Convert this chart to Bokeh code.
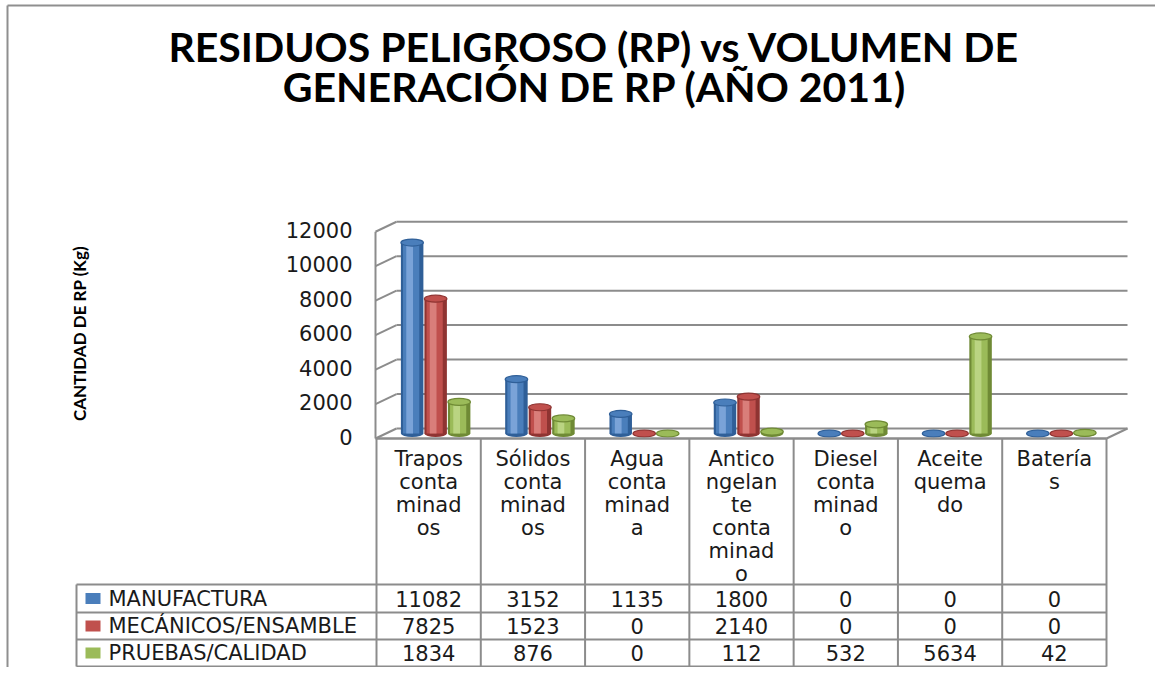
import math
from bokeh.plotting import figure
from bokeh.models import Range1d
from bokeh.core.properties import value
from bokeh.embed import file_html
from bokeh.resources import INLINE

# ---------------- data ----------------
categories = ["Trapos contaminados", "Sólidos contaminados", "Agua contaminada",
              "Anticongelante contaminado", "Diesel contaminado", "Aceite quemado", "Baterías"]
category_labels = ["Trapos\nconta\nminad\nos", "Sólidos\nconta\nminad\nos", "Agua\nconta\nminad\na",
                   "Antico\nngelan\nte\nconta\nminad\no", "Diesel\nconta\nminad\no",
                   "Aceite\nquema\ndo", "Batería\ns"]
series_names = ["MANUFACTURA", "MECÁNICOS/ENSAMBLE", "PRUEBAS/CALIDAD"]
manufactura = [11082, 3152, 1135, 1800, 0, 0, 0]
mecanicos = [7825, 1523, 0, 2140, 0, 0, 0]
pruebas = [1834, 876, 0, 112, 532, 5634, 42]
y_ticks = [0, 2000, 4000, 6000, 8000, 10000, 12000]
title_lines = ["RESIDUOS PELIGROSO (RP) vs VOLUMEN DE", "GENERACIÓN DE RP (AÑO 2011)"]
y_title = "CANTIDAD DE RP (Kg)"

series_values = [manufactura, mecanicos, pruebas]
# (edge, body, highlight)
palette = [("#2f5f98", "#4a7ebb", "#86ace0"),
           ("#8f3432", "#c0504d", "#de8a86"),
           ("#6f8a35", "#9bbb59", "#c2db8c")]

# ---------------- layout helpers ----------------
W, H = 1155, 667
K = 0.01723          # pixels per kg
Y0 = 433.0           # pixel y of zero at mid depth
def V(py):
    return (Y0 - py) / K
D = 5.0 / K          # half depth in value units

p = figure(width=W, height=H, output_backend="svg", toolbar_location=None,
           x_range=Range1d(0, W), y_range=Range1d(V(H), V(0)),
           min_border=0, outline_line_color=None, background_fill_color="white")
p.xaxis.visible = False
p.yaxis.visible = False
p.xgrid.visible = False
p.ygrid.visible = False

GRID = "#8c8c8c"
TXT = "#1a1a1a"
FONT = value("DejaVu Sans")
FS = value("21px")

# outer border
p.segment(x0=[7, 7], y0=[V(5), V(5)], x1=[7, W], y1=[V(H), V(5)],
          line_color="#8f8f8f", line_width=2)

# titles
p.text(x=[594, 594], y=[V(46), V(86)], text=title_lines, text_align="center",
       text_baseline="middle", text_font=value("Lato"), text_font_style="bold",
       text_font_size=value("41px"), text_color="#000000")
p.text(x=[79], y=[V(333)], text=[y_title], angle=math.pi / 2, text_align="center",
       text_baseline="middle", text_font=value("Lato"), text_font_style="bold",
       text_font_size=value("17px"), text_color="#000000")

# walls / gridlines
FX0, BX0, FX1, BX1 = 375, 396, 1106, 1127
p.segment(x0=[BX0] * len(y_ticks), y0=[t + D for t in y_ticks],
          x1=[BX1] * len(y_ticks), y1=[t + D for t in y_ticks], line_color=GRID, line_width=2)
p.segment(x0=[FX0] * len(y_ticks), y0=[t - D for t in y_ticks],
          x1=[BX0] * len(y_ticks), y1=[t + D for t in y_ticks], line_color=GRID, line_width=2)
p.segment(x0=[FX0, FX1, FX0], y0=[-D, -D, -D], x1=[FX0, BX1, FX1], y1=[y_ticks[-1] - D, D, -D],
          line_color=GRID, line_width=2)

# y tick labels
p.text(x=[352] * len(y_ticks), y=[t - D + 2 / K for t in y_ticks], text=[str(t) for t in y_ticks],
       text_align="right", text_baseline="middle", text_font=FONT,
       text_font_size=FS, text_color=TXT)

# cylinders
ncat = len(categories)
col_w = (FX1 - FX0 - 1) / ncat
col_edges = [FX0 + 1 + i * col_w for i in range(ncat + 1)]
centers = [(col_edges[i] + col_edges[i + 1]) / 2 for i in range(ncat)]
BW = 22.5
EH = 7.0 / K
for s, vals in enumerate(series_values):
    dark, body, light = palette[s]
    xs = [c + 7 + (s - 1) * 23.5 for c in centers]
    p.ellipse(x=xs, y=[0] * ncat, width=BW, height=EH, fill_color=dark, line_color=None)
    p.vbar(x=xs, bottom=0, top=vals, width=BW, fill_color=dark, line_color=None)
    p.vbar(x=[x - 1 for x in xs], bottom=0, top=vals, width=BW * 0.72, fill_color=body, line_color=None)
    p.vbar(x=[x - 2.5 for x in xs], bottom=0, top=vals, width=BW * 0.3, fill_color=light,
           fill_alpha=0.8, line_color=None)
    p.ellipse(x=xs, y=vals, width=BW, height=EH, fill_color=body, line_color=dark, line_width=1.2)

# data table
HEAD_TOP = 438
row_lines = [584, 612, 639, 666]
p.segment(x0=[FX0 + 1] + [76] * 4, y0=[V(HEAD_TOP)] + [V(r) for r in row_lines],
          x1=[col_edges[-1]] * 5, y1=[V(HEAD_TOP)] + [V(r) for r in row_lines],
          line_color=GRID, line_width=2)
p.segment(x0=col_edges, y0=[V(HEAD_TOP)] * len(col_edges), x1=col_edges,
          y1=[V(row_lines[-1])] * len(col_edges), line_color=GRID, line_width=2)
p.segment(x0=[76], y0=[V(row_lines[0])], x1=[76], y1=[V(row_lines[-1])],
          line_color=GRID, line_width=2)

hx, hy, ht = [], [], []
for i, lab in enumerate(category_labels):
    for j, line in enumerate(lab.split("\n")):
        hx.append(centers[i])
        hy.append(V(458 + j * 23))
        ht.append(line)
p.text(x=hx, y=hy, text=ht, text_align="center", text_baseline="middle",
       text_font=FONT, text_font_size=FS, text_color=TXT)

for s, vals in enumerate(series_values):
    cy = V((row_lines[s] + row_lines[s + 1]) / 2)
    p.text(x=centers, y=[cy] * ncat, text=[str(v) for v in vals], text_align="center",
           text_baseline="middle", text_font=FONT, text_font_size=FS, text_color=TXT)
    p.rect(x=[92.5], y=[cy], width=15, height=11 / K, fill_color=palette[s][1], line_color=None)
    p.text(x=[108], y=[cy], text=[series_names[s]], text_align="left", text_baseline="middle",
           text_font=FONT, text_font_size=FS, text_color=TXT)

open("out.html", "w").write(file_html(p, INLINE))
